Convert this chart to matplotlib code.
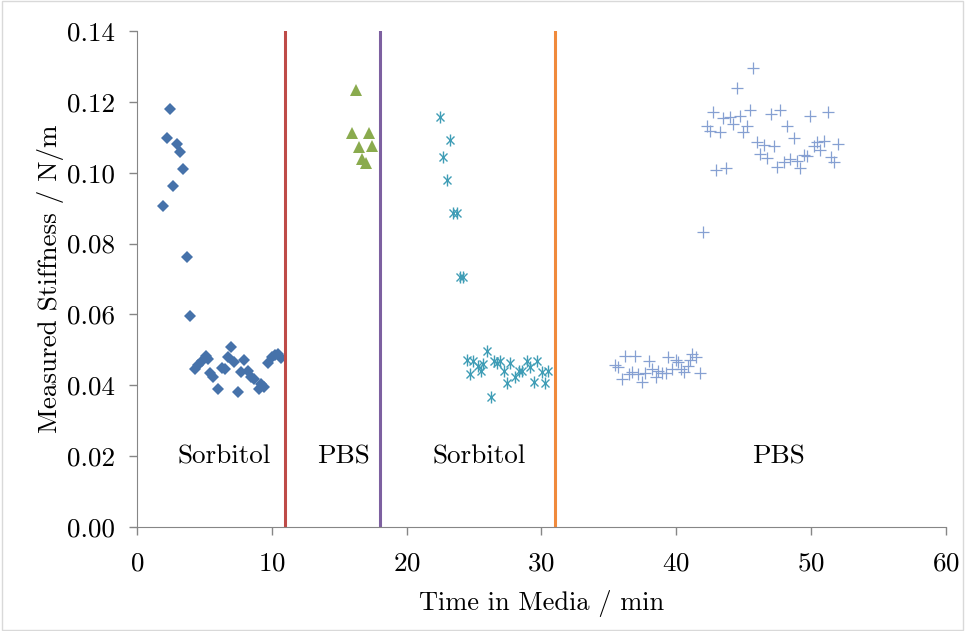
import matplotlib
matplotlib.use("Agg")
import matplotlib.pyplot as plt
from matplotlib.patches import Rectangle

plt.rcParams['font.family'] = ['cmr10', 'DejaVu Serif']
plt.rcParams['axes.formatter.use_mathtext'] = True
plt.rcParams['mathtext.fontset'] = 'cm'

# Sorbitol, first exposure (diamonds)
sorb1_t = [1.93, 2.45, 2.22, 2.67, 2.97, 3.19, 3.41, 3.71, 3.93,
           4.30, 4.52, 4.82, 5.12, 5.27, 5.41, 5.64, 6.01, 6.30, 6.53,
           6.75, 6.97, 7.19, 7.49, 7.71, 7.94, 8.23, 8.46, 8.68, 9.05,
           9.20, 9.42, 9.72, 10.01, 10.24, 10.46, 10.68]
sorb1_k = [0.0906, 0.118, 0.1098, 0.0962, 0.108, 0.1058, 0.101, 0.0762, 0.0596,
           0.0446, 0.0457, 0.0469, 0.0483, 0.0474, 0.0435, 0.0423, 0.0390, 0.0449, 0.0446,
           0.0480, 0.0508, 0.0466, 0.0381, 0.0437, 0.0471, 0.0440, 0.0423, 0.0418, 0.0390,
           0.0404, 0.0395, 0.0463, 0.0480, 0.0485, 0.0488, 0.0477]

# PBS, first exposure (triangles)
pbs1_t = [16.24, 15.95, 17.20, 16.46, 17.43, 16.69, 16.98]
pbs1_k = [0.1233, 0.1112, 0.1112, 0.1073, 0.1075, 0.1039, 0.1027]

# Sorbitol, second exposure (stars)
sorb2_t = [22.47, 23.21, 22.70, 23.00, 23.44, 23.73, 23.96, 24.18,
           24.47, 24.70, 24.92, 25.30, 25.50, 25.66, 25.96, 26.25, 26.48, 26.70,
           26.92, 27.22, 27.44, 27.66, 28.03, 28.33, 28.55, 28.93, 29.15, 29.44,
           29.67, 30.04, 30.26, 30.48]
sorb2_k = [0.1157, 0.1092, 0.1044, 0.0979, 0.0886, 0.0886, 0.0706, 0.0706,
           0.0471, 0.0432, 0.0469, 0.0454, 0.0440, 0.0460, 0.0497, 0.0367, 0.0469, 0.0463,
           0.0469, 0.0440, 0.0406, 0.0463, 0.0423, 0.0440, 0.0440, 0.0469, 0.0452, 0.0409,
           0.0469, 0.0437, 0.0406, 0.0440]

# PBS, second exposure (plus)
pbs2_t = [35.45, 35.67, 35.97, 36.19, 36.49, 36.71, 36.93, 37.16, 37.45, 37.68,
          37.97, 38.20, 38.49, 38.64, 38.94, 39.23, 39.38, 39.68, 39.98, 40.12,
          40.35, 40.60, 40.90, 41.00, 41.20, 41.50, 41.75, 41.98,
          45.69, 44.50, 42.72, 43.46, 43.98, 44.72, 45.46, 44.20, 45.24, 44.95,
          42.28, 42.50, 43.24, 47.02, 47.69, 48.21, 48.73, 45.98, 46.50, 47.24,
          46.21, 46.73, 47.47, 47.98, 48.43, 48.95, 49.17, 49.47, 49.69, 49.91,
          50.21, 50.43, 50.66, 50.95, 51.25, 51.47, 51.69, 51.99, 42.94, 43.69]
pbs2_k = [0.0457, 0.0452, 0.0418, 0.0483, 0.0432, 0.0437, 0.0483, 0.0432, 0.0409, 0.0435,
          0.0469, 0.0446, 0.0423, 0.0440, 0.0435, 0.0435, 0.0480, 0.0446, 0.0471, 0.0466,
          0.0446, 0.0437, 0.0454, 0.0470, 0.0488, 0.0480, 0.0435, 0.0833,
          0.1296, 0.1239, 0.1171, 0.1154, 0.1157, 0.1160, 0.1177, 0.1137, 0.1132, 0.1115,
          0.1132, 0.1118, 0.1115, 0.1166, 0.1177, 0.1132, 0.1098, 0.1087, 0.1078, 0.1075,
          0.1053, 0.1042, 0.1016, 0.1030, 0.1039, 0.1033, 0.1013, 0.1050, 0.1047, 0.1160,
          0.1075, 0.1087, 0.1064, 0.1089, 0.1171, 0.1044, 0.1030, 0.1081, 0.1008, 0.1013]

# media changes
change_t = [11, 18, 31]
change_colors = ['#BE4B48', '#7D60A0', '#F08A3C']

region_labels = ['Sorbitol', 'PBS', 'Sorbitol', 'PBS']
region_t = [6.45, 15.3, 25.4, 47.6]
region_k = 0.02

fig = plt.figure(figsize=(9.65, 6.31), dpi=100)
ax = fig.add_axes([0.142, 0.1648, 0.838, 0.7862])

ax.plot(sorb1_t, sorb1_k, linestyle='none', marker='D', markersize=6.5,
        color='#4672AA', markeredgewidth=0)
ax.plot(pbs1_t, pbs1_k, linestyle='none', marker='^', markersize=8.5,
        color='#8AAB4E', markeredgewidth=0)
ax.plot(sorb2_t, sorb2_k, linestyle='none', marker='x', markersize=6,
        color='#3F9DB6', markeredgewidth=1.0)
ax.plot(sorb2_t, sorb2_k, linestyle='none', marker='|', markersize=8,
        color='#3F9DB6', markeredgewidth=1.0)
ax.plot(pbs2_t, pbs2_k, linestyle='none', marker='+', markersize=8,
        color='#86A0D2', markeredgewidth=0.9)

for t, c in zip(change_t, change_colors):
    ax.axvline(t, color=c, linewidth=2.2)

for lab, t in zip(region_labels, region_t):
    ax.text(t, region_k, lab, ha='center', va='center', fontsize=19.5)

ax.set_xlim(0, 60)
ax.set_ylim(0, 0.14)
ax.set_xticks([0, 10, 20, 30, 40, 50, 60])
ax.set_yticks([0, 0.02, 0.04, 0.06, 0.08, 0.10, 0.12, 0.14])
ax.set_yticklabels(['%.2f' % v for v in ax.get_yticks()])
ax.set_xlabel('Time in Media / min', fontsize=19, labelpad=10)
ax.set_ylabel('Measured Stiffness / N/m', fontsize=19.5, labelpad=2)
ax.tick_params(labelsize=19.5, length=6, color='#868686', width=1)
ax.tick_params(axis='y', pad=10)
ax.tick_params(axis='x', pad=12)
for s in ['top', 'right']:
    ax.spines[s].set_visible(False)
for s in ['left', 'bottom']:
    ax.spines[s].set_color('#868686')

fig.patches.append(Rectangle((0.002, 0.002), 0.996, 0.996, transform=fig.transFigure,
                             fill=False, edgecolor='#D9D9D9', linewidth=1))

fig.savefig('out.png', dpi=100)
